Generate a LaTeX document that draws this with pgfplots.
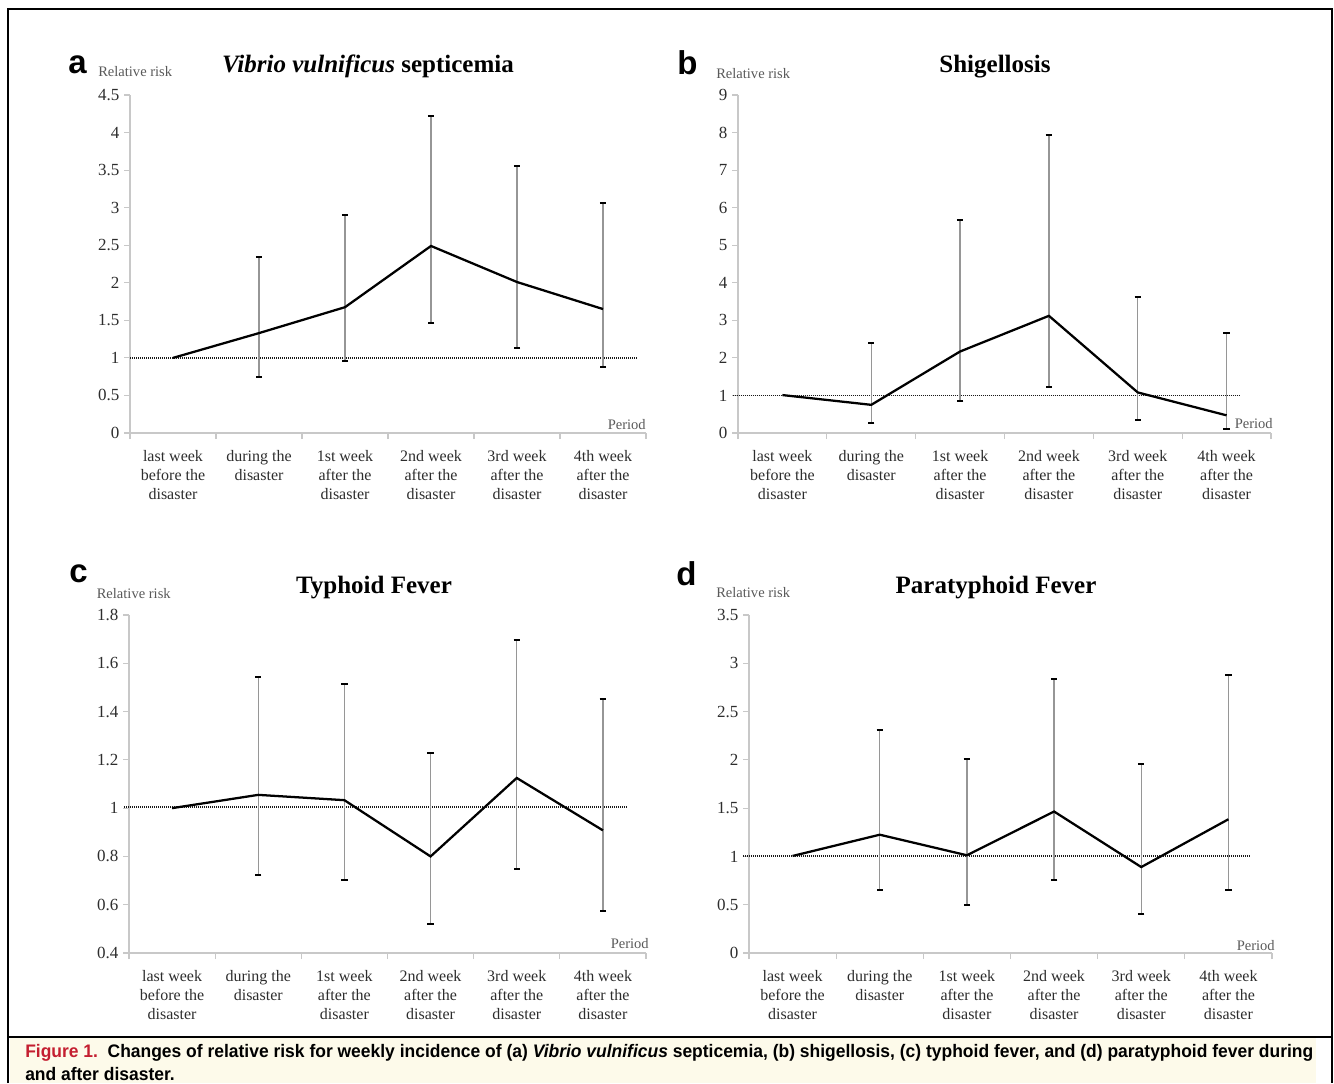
\documentclass[border=0pt]{standalone}
\usepackage{pgfplots}
\pgfplotsset{compat=1.18}
\usepackage{fontspec}
\usepackage{graphicx}
\setmainfont{Liberation Serif}
\newfontfamily\capfont{Liberation Sans}
\newfontfamily\panelfont{Liberation Sans}
\definecolor{capred}{RGB}{196,30,48}
\definecolor{capbg}{RGB}{253,250,234}
\definecolor{axgray}{RGB}{200,200,200}
\definecolor{ebgray}{RGB}{150,150,150}
\definecolor{txt}{RGB}{45,45,45}

\pgfplotsset{
  panel/.style={
    scale only axis, anchor=south west, clip=false,
    axis x line*=bottom, axis y line*=left,
    axis line style={draw=axgray, line width=0.9pt},
    xmin=0.5, xmax=6.5,
    xtick={1,2,3,4,5,6},
    xticklabels={{last week\\before the\\disaster},{during the\\disaster},{1st week\\after the\\disaster},{2nd week\\after the\\disaster},{3rd week\\after the\\disaster},{4th week\\after the\\disaster}},
    major x tick style={draw=none},
    minor xtick={0.5,1.5,2.5,3.5,4.5,5.5,6.5},
    minor x tick style={draw=axgray, line width=0.9pt},
    minor tick length=4.5pt,
    major tick length=4.5pt,
    tick align=outside,
    y tick style={draw=axgray, line width=0.9pt},
    xticklabel style={align=center, font=\fontsize{12}{14.25}\selectfont, text=txt, yshift=-5pt},
    yticklabel style={font=\fontsize{12.75}{14}\selectfont, text=txt},
    /pgf/number format/assume math mode=true,
    height=253.5pt,
  },
  refline/.style={black!90, line width=1.4pt, dash pattern=on 0.9pt off 0.6pt},
  mainline/.style={black, line width=1.7pt, mark=none},
  ebars/.style={mark=none, draw=none,
    error bars/.cd, y dir=both, y explicit,
    error bar style={draw=ebgray, line width=0.9pt, solid},
    error mark options={rotate=90, draw=black, line width=1.5pt, mark size=2.4pt}},
}

\begin{document}
\begin{tikzpicture}
\useasboundingbox (0,0) rectangle (1000.5pt,812.25pt);
% caption background and frame
\fill[capbg] (7.5pt,0) rectangle (987pt,33.75pt);
\draw[line width=1.5pt] (6pt,0) -- (6pt,805.5pt) -- (999pt,805.5pt) -- (999pt,0);
\draw[line width=1.5pt] (6pt,34.5pt) -- (999pt,34.5pt);
\node[anchor=base west, inner sep=0] at (18.75pt,19.5pt) {\resizebox{966pt}{\height}{\capfont\bfseries\fontsize{13.6pt}{17.25pt}\selectfont
\begin{tabular}[t]{@{}l@{}}
\textcolor{capred}{Figure 1.}\hspace{0.55em}Changes of relative risk for weekly incidence of (a) \textit{Vibrio vulnificus} septicemia, (b) shigellosis, (c) typhoid fever, and (d) paratyphoid fever during\\
and after disaster.
\end{tabular}}};

% ---------- panel a ----------
\begin{axis}[panel, at={(97.5pt,487.5pt)}, width=387pt,
  ymin=0, ymax=4.5, ytick={0,0.5,1,1.5,2,2.5,3,3.5,4,4.5}]
\addplot[refline] coordinates {(0.5,1) (6.4,1)};
\addplot[ebgray, ebars] coordinates {
 (2,1.33) += (0,1.01) -= (0,0.585)
 (3,1.675) += (0,1.225) -= (0,0.715)
 (4,2.49) += (0,1.73) -= (0,1.03)
 (5,2.01) += (0,1.54) -= (0,0.875)
 (6,1.65) += (0,1.41) -= (0,0.77)
};
\addplot[mainline] coordinates {(1,1) (2,1.33) (3,1.675) (4,2.49) (5,2.01) (6,1.65)};
\end{axis}

% ---------- panel b ----------
\begin{axis}[panel, at={(553.5pt,487.5pt)}, width=399.75pt,
  ymin=0, ymax=9, ytick={0,1,2,3,4,5,6,7,8,9}]
\addplot[refline] coordinates {(0.44,1) (6.14,1)};
\addplot[ebgray, ebars] coordinates {
 (2,0.75) += (0,1.64) -= (0,0.48)
 (3,2.17) += (0,3.50) -= (0,1.33)
 (4,3.12) += (0,4.81) -= (0,1.90)
 (5,1.08) += (0,2.55) -= (0,0.74)
 (6,0.47) += (0,2.19) -= (0,0.36)
};
\addplot[mainline] coordinates {(1,1.01) (2,0.75) (3,2.17) (4,3.12) (5,1.08) (6,0.47)};
\end{axis}

% ---------- panel c ----------
\begin{axis}[panel, at={(96.75pt,97.5pt)}, width=387.75pt,
  ymin=0.4, ymax=1.8, ytick={0.4,0.6,0.8,1,1.2,1.4,1.6,1.8}]
\addplot[refline] coordinates {(0.44,1.005) (6.27,1.005)};
\addplot[ebgray, ebars] coordinates {
 (2,1.055) += (0,0.487) -= (0,0.332)
 (3,1.033) += (0,0.480) -= (0,0.330)
 (4,0.80) += (0,0.428) -= (0,0.28)
 (5,1.125) += (0,0.573) -= (0,0.377)
 (6,0.908) += (0,0.543) -= (0,0.336)
};
\addplot[mainline] coordinates {(1,1.0) (2,1.055) (3,1.033) (4,0.80) (5,1.125) (6,0.908)};
\end{axis}

% ---------- panel d ----------
\begin{axis}[panel, at={(561.75pt,97.5pt)}, width=392.25pt,
  ymin=0, ymax=3.5, ytick={0,0.5,1,1.5,2,2.5,3,3.5}]
\addplot[refline] coordinates {(0.43,1.005) (6.24,1.005)};
\addplot[ebgray, ebars] coordinates {
 (2,1.225) += (0,1.085) -= (0,0.577)
 (3,1.012) += (0,0.995) -= (0,0.512)
 (4,1.465) += (0,1.375) -= (0,0.706)
 (5,0.89) += (0,1.072) -= (0,0.487)
 (6,1.385) += (0,1.495) -= (0,0.73)
};
\addplot[mainline] coordinates {(1,1.005) (2,1.225) (3,1.012) (4,1.465) (5,0.89) (6,1.385)};
\end{axis}

% ---------- panel letters, titles, axis captions ----------
\begin{scope}[every node/.style={inner sep=0}]
\node[anchor=base west, font=\panelfont\bfseries\fontsize{24.75}{26}\selectfont] at (51pt,756.75pt) {a};
\node[anchor=base west, font=\panelfont\bfseries\fontsize{24.75}{26}\selectfont] at (507.75pt,756pt) {b};
\node[anchor=base west, font=\panelfont\bfseries\fontsize{24.75}{26}\selectfont] at (51.75pt,375.75pt) {c};
\node[anchor=base west, font=\panelfont\bfseries\fontsize{24.75}{26}\selectfont] at (507pt,373.5pt) {d};

\node[anchor=base, font=\bfseries\fontsize{18.75}{20}\selectfont] at (276pt,757.5pt) {\textit{Vibrio vulnificus} septicemia};
\node[anchor=base, font=\bfseries\fontsize{18.75}{20}\selectfont] at (746.25pt,757.5pt) {Shigellosis};
\node[anchor=base, font=\bfseries\fontsize{18.75}{20}\selectfont] at (280.5pt,367.5pt) {Typhoid Fever};
\node[anchor=base, font=\bfseries\fontsize{18.75}{20}\selectfont] at (747pt,367.5pt) {Paratyphoid Fever};

\node[anchor=base west, text=black!65, font=\fontsize{10.9}{12}\selectfont] at (73.5pt,754.5pt) {Relative risk};
\node[anchor=base west, text=black!65, font=\fontsize{10.9}{12}\selectfont] at (537pt,753pt) {Relative risk};
\node[anchor=base west, text=black!65, font=\fontsize{10.9}{12}\selectfont] at (72.4pt,363.75pt) {Relative risk};
\node[anchor=base west, text=black!65, font=\fontsize{10.9}{12}\selectfont] at (537pt,364.5pt) {Relative risk};

\node[anchor=base east, text=black!65, font=\fontsize{10.9}{12}\selectfont] at (484.5pt,489.75pt) {Period};
\node[anchor=base east, text=black!65, font=\fontsize{10.9}{12}\selectfont] at (954.75pt,490.5pt) {Period};
\node[anchor=base east, text=black!65, font=\fontsize{10.9}{12}\selectfont] at (486.75pt,101.25pt) {Period};
\node[anchor=base east, text=black!65, font=\fontsize{10.9}{12}\selectfont] at (956.25pt,99.75pt) {Period};
\end{scope}
\end{tikzpicture}
\end{document}
